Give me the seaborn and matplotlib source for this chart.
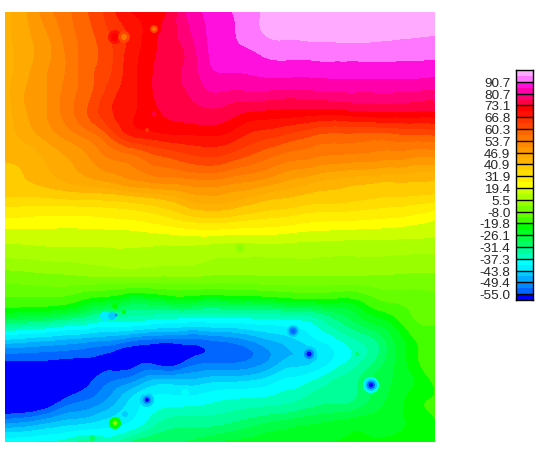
import matplotlib
matplotlib.use("Agg")
from matplotlib import pyplot as plt
from matplotlib import tri as mtri
from matplotlib.colors import BoundaryNorm, ListedColormap
from matplotlib.transforms import ScaledTranslation
import numpy as np
import seaborn as sns

# band limits, low to high (labelled ones are the legend ticks)
levels = [-80, -55, -52.2, -49.4, -46.6, -43.8, -40.5, -37.3, -34.4, -31.4, -28.8, -26.1, -23, -19.8,
          -13.9, -8, -1.3, 5.5, 12.5, 19.4, 25.6, 31.9, 36.4, 40.9, 43.9, 46.9, 50.3, 53.7, 57, 60.3,
          63.5, 66.8, 70, 73.1, 76.9, 80.7, 85.7, 90.7, 95, 120]
band_colors = ["#0000ff", "#0066ff", "#0088ff", "#00aaff", "#00ccff", "#00eeff", "#00ffff", "#00ffbb",
               "#00ff99", "#00ff66", "#00ff44", "#00ff22", "#00ff00", "#44ff00", "#66ff00", "#77ff00",
               "#99ff00", "#aaff00", "#ccff00", "#ffff00", "#ffee00", "#ffdd00", "#ffcc00", "#ffb300",
               "#ffaa00", "#ff9900", "#ff8800", "#ff7700", "#ff6600", "#ff4400", "#ff3300", "#ff1100",
               "#ff0000", "#ff0044", "#ff0077", "#ff00aa", "#ff10dd", "#ff77ff", "#ffaaff"]
legend_labels = ["90.7", "80.7", "73.1", "66.8", "60.3", "53.7", "46.9", "40.9", "31.9", "19.4", "5.5",
                 "-8.0", "-19.8", "-26.1", "-31.4", "-37.3", "-43.8", "-49.4", "-55.0"]

grid_x = np.linspace(5, 435, 22)
grid_y = np.linspace(12, 442, 22)
field = np.array([
    [43, 46.5, 52, 56, 60, 64.5, 69.5, 71, 73.5, 82, 87, 90.5, 93, 97, 99, 100, 100, 100, 100, 100, 99, 99],
    [43, 46, 50, 55, 59, 63, 67, 71, 75, 80, 86.5, 90, 93, 96, 96.5, 97, 97, 97.5, 97, 96.5, 96, 95.5],
    [42.5, 45.5, 49, 54, 58.5, 62, 67.5, 71.5, 75, 78, 86, 89.5, 90, 92, 92, 92.3, 92.5, 92.5, 92.5, 92.3, 92, 92],
    [42.5, 46, 50, 54, 59, 62.5, 68, 72, 76, 78, 84, 85.5, 86, 87, 87, 87, 87.3, 87.5, 87.5, 87.5, 87.5, 87],
    [42.5, 47, 50, 55, 59, 64.5, 68.5, 72, 75.5, 77, 80, 79.5, 79.5, 79, 78.5, 79, 79.5, 80, 80, 80, 79.5, 79],
    [42, 46.5, 50, 55, 60, 65.5, 69, 71.5, 73.5, 74.5, 75.5, 74, 72, 71.5, 71, 70.5, 70, 71, 71.5, 71.5, 71.5, 71.5],
    [42, 45, 48, 51.5, 55, 60, 66.5, 68.5, 69.7, 70, 70.3, 69, 66, 64.5, 62.5, 60.5, 59.5, 59.5, 59, 59.5, 60, 60.5],
    [41.5, 42, 44.5, 47, 50, 54, 56, 59, 61, 63, 64, 62.5, 60, 57.5, 55.5, 54.5, 53.5, 53, 52.5, 52, 51, 51],
    [39.5, 41, 43, 45, 47, 49, 51, 53, 54, 55, 55.5, 54, 52.5, 50.5, 48, 46.5, 45, 44, 43.5, 43, 42.5, 42],
    [36.5, 36.5, 37, 38, 38.5, 39, 40.3, 41.5, 43, 45.5, 46.5, 45.5, 44, 42, 41, 39.5, 39, 38, 37, 36.5, 36, 35],
    [26, 25.5, 25, 24.7, 25, 26, 27, 29, 32, 35.5, 37, 36, 34, 32.5, 31, 29, 28.5, 28, 27, 26, 24, 21],
    [15, 15.5, 16, 16, 16, 16, 16, 16.5, 17, 18, 18, 17, 17, 17, 16, 15, 14.5, 14, 14, 13.5, 13, 12.5],
    [5.5, 6, 7, 7.5, 8, 9, 10, 9, 8, 8, 6, 5.5, 5, 5.5, 5.5, 5.5, 5, 5, 5, 4.5, 4, 4],
    [-6, -5, -4, -3.5, -3, -3, -3, -3, -3, -3, -3.5, -4, -3.5, -3, -3, -3, -3, -3, -3, -3, -3.5, -3.5],
    [-15, -15, -15, -16, -20, -22, -25, -25, -23, -22.5, -24, -23, -23, -22, -20.5, -20, -20, -20, -15, -12, -11, -10],
    [-28, -29, -30, -32, -34, -36, -36, -37, -38, -38.5, -38.5, -38.5, -38, -37.7, -37, -36, -32, -28.5, -24.5, -21, -14, -13],
    [-44, -45, -46, -47, -48, -49, -51, -52.5, -53, -53, -52, -51, -49, -46.5, -44.5, -41.5, -38.5, -35, -31.8, -26, -20, -15],
    [-55, -55, -55, -55.5, -55.5, -56, -57, -56, -58, -54.7, -53.3, -53.2, -52, -49, -46, -44.5, -40.5, -36.5, -32, -26.5, -21, -15],
    [-60, -60, -59, -58, -56, -53, -51, -47, -46, -46, -45, -44.5, -44, -42, -39.5, -37.5, -34.5, -32.5, -28.5, -26, -23, -19],
    [-60, -60, -58, -54, -52, -49, -44, -40, -39, -39, -38, -37, -36.5, -36, -35, -33, -32, -31.5, -28, -25, -21, -19.5],
    [-51, -50, -48, -46, -45, -43, -41, -37, -33.5, -33, -33, -32, -30.5, -29, -28, -27, -26, -25, -24.5, -24, -22, -20],
    [-38, -38, -37, -36, -33, -36, -32, -29, -29, -28.5, -27, -25.5, -25, -24, -24, -23.5, -23, -23, -23, -22.5, -22, -21],
])

# small local anomalies, outer ring first
spot_x = [115, 115, 124, 124, 154, 154, 154, 147, 154, 148, 240, 240, 105, 112, 116, 115, 124, 147, 147, 147,
          185, 145, 92, 115, 115, 115, 125, 293, 293, 293, 309, 309, 309, 357, 371, 371, 371, 371]
spot_y = [37, 37, 37, 37, 29, 29, 29, 130, 114, 14, 248, 248, 316, 316, 315, 306, 312, 400, 400, 400,
          393, 392, 438, 423, 423, 423, 414, 331, 331, 331, 354, 354, 354, 354, 385, 385, 385, 385]
spot_val = [68, 72, 62, 55, 72, 62, 54, 64, 74, 72, 3, -4, -42, -46, -52, -22, -20, -46, -52, -60,
            -38, -42, -30, -23, -8, 8, -44, -46, -50, -54, -46, -52, -60, -30, -38, -46, -54, -60]
spot_r = [7, 4, 6, 3, 7, 4, 2, 2, 2.5, 3, 5, 1.5, 5, 4, 1.5, 3, 2, 7, 4, 2,
          4, 3, 3, 6, 2.5, 1, 3, 6, 4, 2, 8, 5, 2.5, 2, 8, 6, 4, 2]

sns.set_style("white")
cmap = ListedColormap(band_colors)
norm = BoundaryNorm(levels, cmap.N)

fig = plt.figure(figsize=(5.47, 4.5), dpi=100)
ax = fig.add_axes([5 / 547, 1 - 442 / 450, 430 / 547, 430 / 450])
# smooth contour outlines, the grid values stay as read
grid_xx, grid_yy = np.meshgrid(grid_x, grid_y)
triang = mtri.Triangulation(grid_xx.ravel(), grid_yy.ravel())
fine_tri, fine_z = mtri.UniformTriRefiner(triang).refine_field(field.ravel(), subdiv=3)
ax.tricontourf(fine_tri, fine_z, levels=levels, cmap=cmap, norm=norm, antialiased=False)
sizes = [(1.44 * r) ** 2 for r in spot_r]
ax.scatter(spot_x, spot_y, c=spot_val, s=sizes, cmap=cmap, norm=norm, linewidths=0)
ax.set_xlim(5, 435)
ax.set_ylim(442, 12)
ax.axis("off")

# legend strip
n = len(band_colors)
cax = fig.add_axes([516 / 547, 1 - 300 / 450, 17 / 547, 230 / 450])
sns.heatmap(np.arange(n - 1, -1, -1).reshape(-1, 1), ax=cax, cmap=cmap, vmin=-0.5, vmax=n - 0.5,
            cbar=False, xticklabels=False)
line_pos = [2 * (k + 1) for k in range(len(legend_labels))]
cax.hlines(line_pos, 0, 1, color="black", lw=1)
for side in cax.spines.values():
    side.set_visible(True)
    side.set_color("black")
    side.set_linewidth(1)
cax.set_yticks(line_pos)
cax.set_yticklabels(legend_labels, rotation=0, fontsize=9.7, family="Liberation Sans")
cax.tick_params(axis="y", length=0, pad=4, left=False)
nudge = ScaledTranslation(0, -1.5 / 72, fig.dpi_scale_trans)
for lab in cax.get_yticklabels():
    lab.set_transform(lab.get_transform() + nudge)

fig.savefig("out.png", dpi=100)
